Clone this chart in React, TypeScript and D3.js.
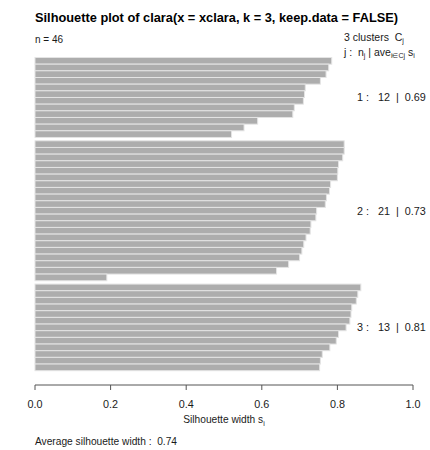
import React from "react";
import * as d3 from "d3";

const cluster1 = [0.785, 0.777, 0.770, 0.755, 0.715, 0.713, 0.710, 0.686, 0.682, 0.589, 0.553, 0.520];
const cluster2 = [0.818, 0.818, 0.814, 0.803, 0.801, 0.800, 0.782, 0.779, 0.771, 0.768, 0.745, 0.743, 0.730, 0.728, 0.717, 0.711, 0.706, 0.700, 0.671, 0.639, 0.190];
const cluster3 = [0.862, 0.854, 0.850, 0.838, 0.836, 0.833, 0.823, 0.803, 0.797, 0.780, 0.760, 0.755, 0.753];
const clusterIds = [1, 2, 3];
const xTicks = [0, 0.2, 0.4, 0.6, 0.8, 1.0];

const W = 430, H = 450;
const FONT = "'Liberation Sans', Arial, Helvetica, sans-serif";
const TXT = "#1a1a1a";

export default function App() {
  const clusters = [cluster1, cluster2, cluster3];
  const gap = 0.5;
  const totalUnits = clusters.reduce((s, c) => s + c.length, 0) + gap * (clusters.length - 1);
  const x = d3.scaleLinear().domain([0, 1]).range([35, 413]);
  const y = d3.scaleLinear().domain([0, totalUnits]).range([57.5, 370.7]);

  const bars: { v: number; u: number }[] = [];
  const groups: { id: number; n: number; ave: number; mid: number }[] = [];
  let u = 0;
  clusters.forEach((c, ci) => {
    const start = u;
    c.forEach((v) => {
      bars.push({ v, u });
      u += 1;
    });
    groups.push({ id: clusterIds[ci], n: c.length, ave: d3.mean(c) as number, mid: (start + u) / 2 });
    u += gap;
  });
  const all = clusters.flat();
  const overall = d3.mean(all) as number;
  const nTotal = all.length;

  const axisY = 385;

  return (
    <svg width={W} height={H} style={{ position: "absolute", left: 0, top: 0, background: "#fff" }} fontFamily={FONT}>
      <text x={35} y={21.5} fontSize={12.8} fontWeight="bold" fill="#000">
        Silhouette plot of clara(x = xclara, k = 3, keep.data = FALSE)
      </text>
      <text x={35} y={43} fontSize={10} fill={TXT}>{`n = ${nTotal}`}</text>
      <text x={344} y={40.5} fontSize={10.5} fill={TXT} style={{ whiteSpace: "pre" }}>
        {`${clusters.length} clusters  C`}
        <tspan fontSize={7} dy={2.5}>j</tspan>
      </text>
      <text x={344} y={55.5} fontSize={10.5} fill={TXT} style={{ whiteSpace: "pre" }}>
        {"j :  n"}
        <tspan fontSize={7} dy={2.5}>j</tspan>
        <tspan dy={-2.5}>{" | ave"}</tspan>
        <tspan fontSize={7} dy={2.5}>{"i∈Cj"}</tspan>
        <tspan dy={-2.5}>{" s"}</tspan>
        <tspan fontSize={7} dy={2.5}>i</tspan>
      </text>

      <g>
        {bars.map((b, i) => (
          <rect
            key={i}
            x={x(0)}
            y={y(b.u)}
            width={x(b.v) - x(0)}
            height={y(b.u + 1) - y(b.u)}
            fill="#adadad"
            stroke="#e4e4e4"
            strokeWidth={1}
          />
        ))}
      </g>

      {groups.map((g) => (
        <text key={g.id} x={357} y={y(g.mid) + 3.8} fontSize={10.8} fill={TXT} style={{ whiteSpace: "pre" }}>
          {`${g.id} :   ${g.n}  |  ${g.ave.toFixed(2)}`}
        </text>
      ))}

      <g>
        <line x1={x(0)} x2={x(1)} y1={axisY} y2={axisY} stroke="#555" strokeWidth={1} />
        {xTicks.map((t) => (
          <g key={t}>
            <line x1={x(t)} x2={x(t)} y1={axisY} y2={axisY + 5} stroke="#555" strokeWidth={1} />
            <text x={x(t)} y={axisY + 23} fontSize={10.8} textAnchor="middle" fill={TXT}>
              {t.toFixed(1)}
            </text>
          </g>
        ))}
        <text x={(x(0) + x(1)) / 2} y={axisY + 38} fontSize={10.2} textAnchor="middle" fill={TXT}>
          Silhouette width s
          <tspan fontSize={7} dy={2.5}>i</tspan>
        </text>
      </g>

      <text x={35} y={444.5} fontSize={10.2} fill={TXT} style={{ whiteSpace: "pre" }}>
        {`Average silhouette width :  ${overall.toFixed(2)}`}
      </text>
    </svg>
  );
}
